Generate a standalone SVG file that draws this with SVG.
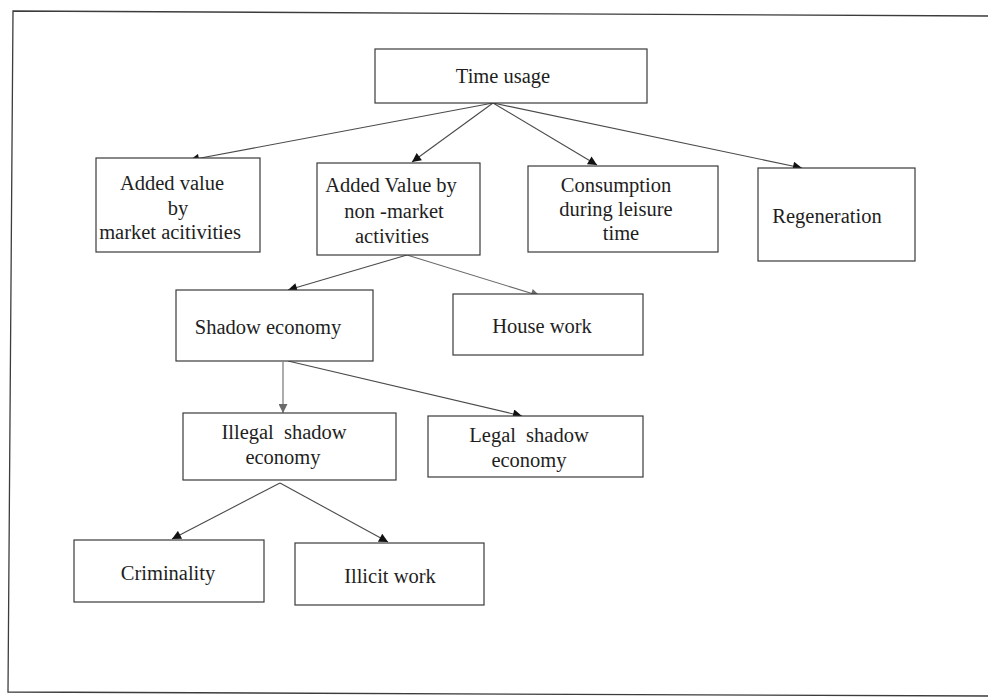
<svg xmlns="http://www.w3.org/2000/svg" width="988" height="698" viewBox="0 0 988 698">
  <style>
    .box { fill: #ffffff; stroke: #3a3a3a; stroke-width: 1.2; }
    .lbl { font-family: "Liberation Serif", "Times New Roman", serif; font-size: 20.5px; fill: #1e1e1e; text-anchor: middle; }
    .edge { fill: none; stroke: #4a4a4a; stroke-width: 1.1; marker-end: url(#tip); }
    .edge.grey { stroke: #6a6a6a; marker-end: url(#tipGrey); }
    .frame { fill: none; stroke: #3c3c3c; stroke-width: 1.3; }
  </style>
  <defs>
    <marker id="tip" viewBox="0 0 10 10" refX="10" refY="5" markerWidth="11" markerHeight="9" markerUnits="userSpaceOnUse" orient="auto">
      <path d="M0,0 L10,5 L0,10 Z" fill="#111111"/>
    </marker>
    <marker id="tipGrey" viewBox="0 0 10 10" refX="10" refY="5" markerWidth="11" markerHeight="9" markerUnits="userSpaceOnUse" orient="auto">
      <path d="M0,0 L10,5 L0,10 Z" fill="#6a6a6a"/>
    </marker>
  </defs>

  <rect width="988" height="698" fill="#ffffff"/>

  <!-- page frame -->
  <path class="frame" d="M988,16 L13,11 L8,692 L988,696"/>

  <!-- connectors -->
  <g id="connectors">
    <line class="edge" x1="493" y1="103" x2="190" y2="160"/>
    <line class="edge" x1="493" y1="103" x2="412" y2="162"/>
    <line class="edge" x1="493" y1="103" x2="597" y2="165"/>
    <line class="edge" x1="493" y1="103" x2="802" y2="168"/>
    <line class="edge" x1="407" y1="255" x2="288" y2="290"/>
    <line class="edge grey" x1="407" y1="255" x2="540" y2="296"/>
    <line class="edge grey" x1="283" y1="362" x2="283" y2="413"/>
    <line class="edge" x1="288" y1="361" x2="522" y2="416"/>
    <line class="edge" x1="280" y1="483" x2="172" y2="539"/>
    <line class="edge" x1="280" y1="483" x2="388" y2="542"/>
  </g>

  <g id="time-usage">
    <rect class="box" x="375" y="49" width="272" height="54"/>
    <text class="lbl" x="503" y="83">Time usage</text>
  </g>

  <g id="market-activities">
    <rect class="box" x="96" y="158" width="164" height="94"/>
    <text class="lbl" x="172" y="190">Added value</text>
    <text class="lbl" x="178" y="215">by</text>
    <text class="lbl" x="170" y="239">market acitivities</text>
  </g>

  <g id="non-market-activities">
    <rect class="box" x="317" y="163" width="163" height="92"/>
    <text class="lbl" x="391" y="192">Added Value by</text>
    <text class="lbl" x="394" y="218">non -market</text>
    <text class="lbl" x="392" y="243">activities</text>
  </g>

  <g id="consumption">
    <rect class="box" x="528" y="166" width="190" height="86"/>
    <text class="lbl" x="616" y="192">Consumption</text>
    <text class="lbl" x="616" y="216">during leisure</text>
    <text class="lbl" x="621" y="240">time</text>
  </g>

  <g id="regeneration">
    <rect class="box" x="758" y="168" width="157" height="93"/>
    <text class="lbl" x="827" y="223">Regeneration</text>
  </g>

  <g id="shadow-economy">
    <rect class="box" x="176" y="290" width="197" height="71"/>
    <text class="lbl" x="268" y="334">Shadow economy</text>
  </g>

  <g id="house-work">
    <rect class="box" x="453" y="294" width="190" height="61"/>
    <text class="lbl" x="542" y="333">House work</text>
  </g>

  <g id="illegal-shadow-economy">
    <rect class="box" x="183" y="413" width="213" height="67"/>
    <text class="lbl" x="284" y="439" word-spacing="5">Illegal shadow</text>
    <text class="lbl" x="283" y="464">economy</text>
  </g>

  <g id="legal-shadow-economy">
    <rect class="box" x="428" y="416" width="215" height="61"/>
    <text class="lbl" x="529" y="442" word-spacing="5">Legal shadow</text>
    <text class="lbl" x="529" y="467">economy</text>
  </g>

  <g id="criminality">
    <rect class="box" x="74" y="540" width="190" height="62"/>
    <text class="lbl" x="168" y="580">Criminality</text>
  </g>

  <g id="illicit-work">
    <rect class="box" x="295" y="543" width="189" height="62"/>
    <text class="lbl" x="390" y="583">Illicit work</text>
  </g>
</svg>
